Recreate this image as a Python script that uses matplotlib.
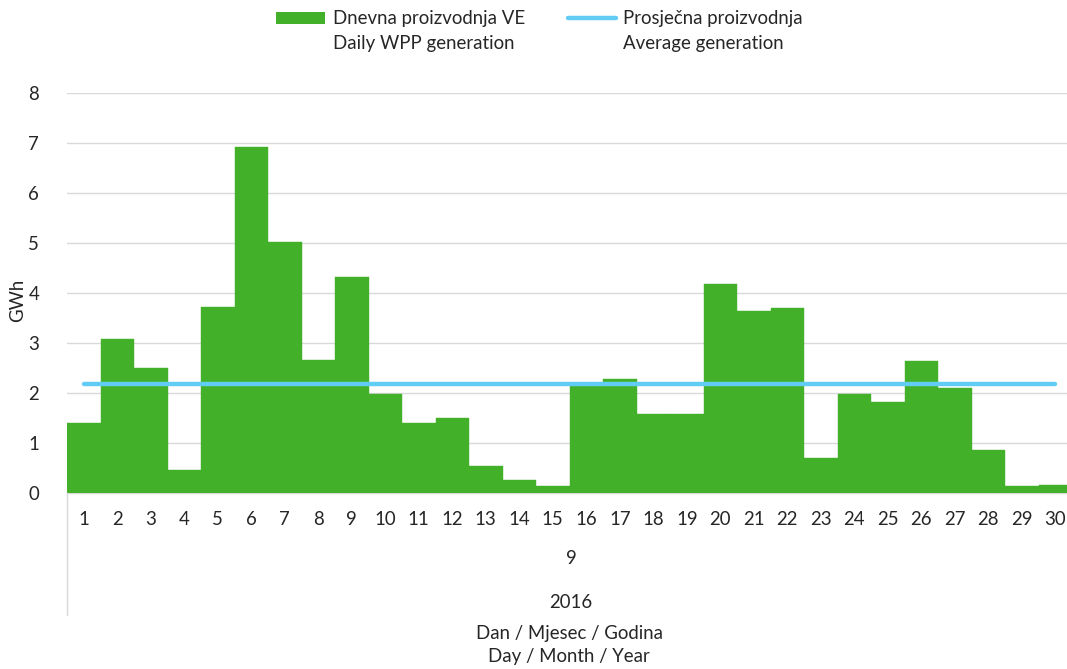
import matplotlib
matplotlib.use("Agg")
import matplotlib.pyplot as plt
from matplotlib.patches import Rectangle
from matplotlib.lines import Line2D

plt.rcParams['font.family'] = ['Lato', 'DejaVu Sans']

days = list(range(1, 31))
daily = [1.41, 3.08, 2.51, 0.47, 3.72, 6.93, 5.02, 2.67, 4.32, 1.99,
         1.41, 1.51, 0.55, 0.27, 0.15, 2.15, 2.28, 1.59, 1.59, 4.18,
         3.64, 3.70, 0.70, 1.99, 1.82, 2.64, 2.11, 0.87, 0.15, 0.17]
avg_value = 2.19
month_label = "9"
year_label = "2016"
yticks = [0, 1, 2, 3, 4, 5, 6, 7, 8]
legend_bar = "Dnevna proizvodnja VE\nDaily WPP generation"
legend_line = "Prosječna proizvodnja\nAverage generation"
xlabel_text = "Dan / Mjesec / Godina\nDay / Month / Year"
ylabel_text = "GWh"

GREEN = "#43B02A"
BLUE = "#62CDF4"
GRID = "#D9D9D9"
TXT = "#262626"
FS = 13.4

W, H = 1067, 669
fig = plt.figure(figsize=(W / 100, H / 100), dpi=100)
ax = fig.add_axes([67 / W, 1 - 493 / H, 1005 / W, 400 / H])

ax.bar(days, daily, width=1.0, color=GREEN, edgecolor=GREEN, linewidth=0.3, zorder=2)
ax.plot(days, [avg_value] * len(days), color=BLUE, linewidth=3.2,
        solid_capstyle="round", zorder=3)

ax.set_xlim(0.5, 30.5)
ax.set_ylim(0, 8)
ax.set_yticks(yticks)
ax.set_yticklabels([str(v) for v in yticks], fontsize=FS, color=TXT)
ax.set_xticks(days)
ax.set_xticklabels([str(d) for d in days], fontsize=FS, color=TXT)
ax.tick_params(axis='both', length=0)
ax.tick_params(axis='x', pad=13)
ax.tick_params(axis='y', pad=20)
ax.grid(axis='y', color=GRID, linewidth=1.0, zorder=0)
ax.set_axisbelow(True)
for s in ['top', 'right', 'left']:
    ax.spines[s].set_visible(False)
ax.spines['bottom'].set_color(GRID)
ax.spines['bottom'].set_linewidth(1.0)
ax.spines['bottom'].set_zorder(1)

# category grouping line on left
fig.add_artist(Line2D([67 / W, 67 / W], [1 - 493 / H, 1 - 615 / H],
                      color=GRID, linewidth=1.0))

fig.text(571 / W, 1 - 559 / H, month_label, ha='center', va='center', fontsize=FS, color=TXT)
fig.text(571 / W, 1 - 602 / H, year_label, ha='center', va='center', fontsize=FS, color=TXT)
fig.text(569 / W, 1 - 645 / H, xlabel_text, ha='center', va='center', fontsize=FS,
         color=TXT, linespacing=1.4)
fig.text(18 / W, 1 - 300 / H, ylabel_text, ha='center', va='center', rotation=90,
         fontsize=FS, color=TXT)

# legend
fig.add_artist(Rectangle((276 / W, 1 - 24 / H), 49 / W, 12 / H, transform=fig.transFigure,
                         facecolor=GREEN, edgecolor='none'))
fig.text(333 / W, 1 - 31 / H, legend_bar, ha='left', va='center', fontsize=FS, color=TXT,
         linespacing=1.55)
fig.add_artist(Line2D([568 / W, 616 / W], [1 - 18 / H, 1 - 18 / H], color=BLUE,
                      linewidth=3.2, solid_capstyle='round'))
fig.text(623 / W, 1 - 31 / H, legend_line, ha='left', va='center', fontsize=FS, color=TXT,
         linespacing=1.55)

fig.savefig("out.png", dpi=100)
